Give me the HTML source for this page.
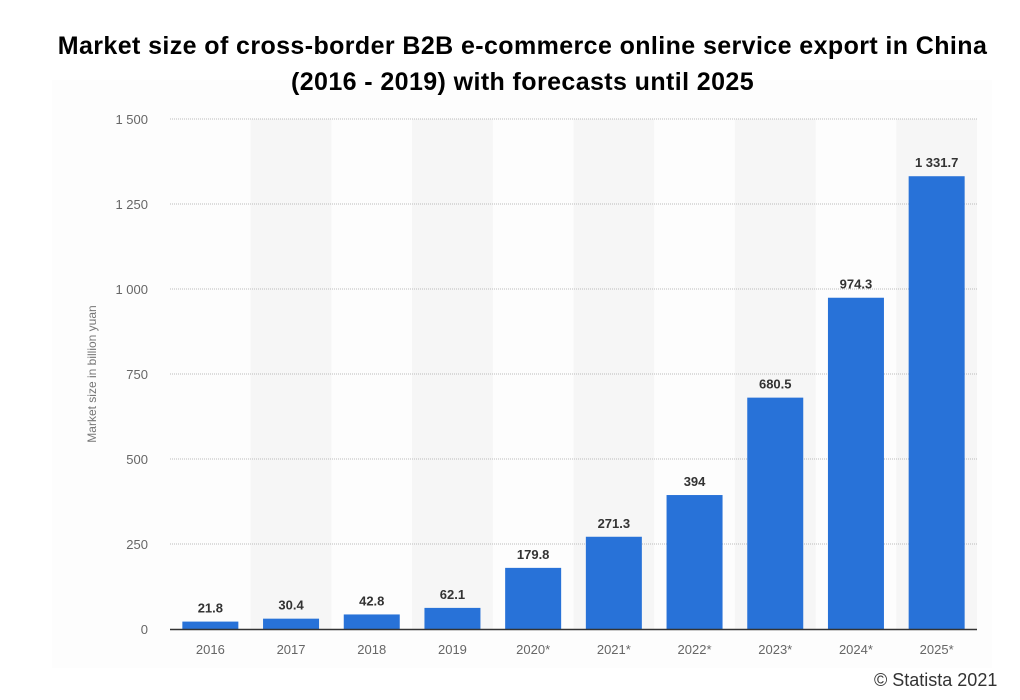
<!DOCTYPE html>
<html><head><meta charset="utf-8"><style>
body{margin:0;background:#fff;width:1020px;height:700px;overflow:hidden;font-family:"Liberation Sans",sans-serif}
.title{position:absolute;left:0;width:1045px;top:28px;text-align:center;font-weight:bold;font-size:25px;letter-spacing:0.4px;line-height:36px;color:#000;z-index:2}
.credit{position:absolute;left:874px;top:670px;font-size:18px;color:#333}
</style></head><body>
<svg id="chart" width="1020" height="700" style="position:absolute;left:0;top:0">
<rect x="52" y="80" width="940" height="588" fill="#fdfdfd"/>
</svg>
<div class="title">Market size of cross-border B2B e-commerce online service export in China<br>(2016 - 2019) with forecasts until 2025</div>
<div class="credit">© Statista 2021</div>
<script>
const categories=["2016","2017","2018","2019","2020*","2021*","2022*","2023*","2024*","2025*"];
const values=[21.8,30.4,42.8,62.1,179.8,271.3,394,680.5,974.3,1331.7];
const valueLabels=["21.8","30.4","42.8","62.1","179.8","271.3","394","680.5","974.3","1 331.7"];
const yTicks=[0,250,500,750,1000,1250,1500];
const yTickLabels=["0","250","500","750","1 000","1 250","1 500"];
const NS="http://www.w3.org/2000/svg";
const svg=document.getElementById('chart');
const x0=170,x1=977,y0=629,y1=119,yMax=1500;
const band=(x1-x0)/categories.length;
const y=v=>y0-(v/yMax)*(y0-y1);
const xc=i=>x0+band*(i+0.5);
function mk(tag,a){const e=document.createElementNS(NS,tag);for(const k in a)e.setAttribute(k,a[k]);svg.appendChild(e);return e;}
categories.forEach((c,i)=>{if(i%2==1){const r=mk('rect',{x:x0+band*i,y:y1,width:band,height:y0-y1,fill:'#f6f6f6'});

}});
yTicks.forEach((t,i)=>{
 if(t>0){const l=mk('line',{x1:x0,x2:x1,y1:y(t),y2:y(t),stroke:'#bbb','stroke-dasharray':'1,1'});
 
 }
 const tx=mk('text',{x:148,y:y(t)+5,'text-anchor':'end','font-size':'13',fill:'#666'});tx.textContent=yTickLabels[i];
 
 
});
values.forEach((v,i)=>{
 const w=56;
 const b=mk('rect',{x:xc(i)-w/2,y:y(v),width:w,height:y0-y(v),fill:'#2872d8'});
 
 
 const t=mk('text',{x:xc(i),y:y(v)-9,'text-anchor':'middle','font-size':'13','font-weight':'bold',fill:'#333'});t.textContent=valueLabels[i];
 
 
 const xl=mk('text',{x:xc(i),y:654,'text-anchor':'middle','font-size':'13',fill:'#666'});xl.textContent=categories[i];
 
 
});
const ax=mk('line',{x1:x0,x2:x1,y1:y0+0.5,y2:y0+0.5,stroke:'#333','stroke-width':1.5});


const yt=mk('text',{x:0,y:0,transform:'translate(96,374) rotate(-90)','text-anchor':'middle','font-size':'12',fill:'#777'});yt.textContent='Market size in billion yuan';


</script>
</body></html>
